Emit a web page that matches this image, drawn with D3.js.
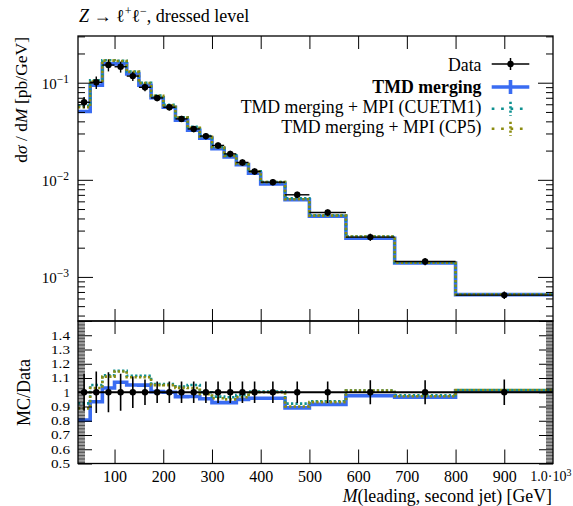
<!DOCTYPE html>
<html><head><meta charset="utf-8">
<script src="https://cdn.jsdelivr.net/npm/d3@7"></script>
<style>
body{margin:0;background:#fff}
svg text{font-family:"Liberation Serif","Times New Roman",serif;fill:#000}
</style>
</head><body>
<svg id="chart" width="573" height="506"></svg>
<script>
// ---------------- data ----------------
const binEdges = [25,50,75,100,125,150,175,200,225,250,275,300,325,350,375,400,450,500,575,675,800,1000];
const dataValues = [0.0629,0.101,0.152,0.146,0.117,0.0897,0.0697,0.0559,0.0424,0.0334,0.0282,0.0226,0.0185,0.0151,0.0122,0.00946,0.00701,0.00460,0.00257,0.00144,0.000650];
const dataRelErr = [0.13,0.145,0.14,0.13,0.11,0.09,0.075,0.075,0.075,0.075,0.075,0.075,0.075,0.075,0.075,0.075,0.075,0.075,0.085,0.085,0.09];
const tmdMerging = [0.0506,0.0943,0.1566,0.1562,0.1229,0.0942,0.0700,0.0559,0.0411,0.0324,0.0269,0.02095,0.01715,0.01435,0.01169,0.00906,0.00624,0.00421,0.002506,0.00139,0.000657];
const tmdCUETM1 = [0.0580,0.1061,0.1702,0.1679,0.1305,0.1000,0.0737,0.0591,0.0441,0.0351,0.0282,0.0219,0.01785,0.0148,0.01225,0.0095,0.00645,0.00431,0.00260,0.00141,0.000660];
const tmdCP5 = [0.0558,0.1040,0.1687,0.1672,0.1293,0.0991,0.0732,0.0587,0.0437,0.0344,0.0278,0.02165,0.01758,0.01457,0.0122,0.00946,0.00631,0.00428,0.00260,0.00140,0.000660];
const xTicks = [100,200,300,400,500,600,700,800,900];
const xTickLabels = ["100","200","300","400","500","600","700","800","900"];
const yMainMajor = [1e-3,1e-2,1e-1];
const yMainLabels = ["\u22123","\u22122","\u22121"];
const ratioTicks = [0.5,0.6,0.7,0.8,0.9,1.0,1.1,1.2,1.3,1.4];
const ratioTickLabels = ["0.5","0.6","0.7","0.8","0.9","1","1.1","1.2","1.3","1.4"];
const legendLabels = ["Data","TMD merging","TMD merging + MPI (CUETM1)","TMD merging + MPI (CP5)"];

// ---------------- layout ----------------
const L=78, R=553, T=36, MB=321, RB=463.5;
const BLUE="#3a6cf2", TEAL="#0f9191", OLIVE="#8c8c10";
const svg = d3.select("#chart");
const x = d3.scaleLinear().domain([25,1000]).range([L,R]);
const y = d3.scaleLog().domain([3.516e-4,0.3027]).range([MB,T]);
const yr = d3.scaleLinear().domain([0.5,1.5]).range([RB,MB]);

const defs = svg.append("defs");
defs.append("clipPath").attr("id","clipMain").append("rect").attr("x",L).attr("y",T).attr("width",R-L).attr("height",MB-T);
defs.append("clipPath").attr("id","clipRatio").append("rect").attr("x",L).attr("y",MB).attr("width",R-L).attr("height",RB-MB);

const nb = dataValues.length;
const centers = d3.range(nb).map(i => (binEdges[i]+binEdges[i+1])/2);
function stepPts(vals){ const p = vals.map((v,i)=>[binEdges[i],v]); p.push([binEdges[nb],vals[nb-1]]); return p; }

// ---------------- main panel ----------------
const gMain = svg.append("g").attr("clip-path","url(#clipMain)");
const lineMain = d3.line().x(d=>x(d[0])).y(d=>y(d[1])).curve(d3.curveStepAfter);
gMain.append("path").attr("d",lineMain(stepPts(tmdMerging))).attr("fill","none").attr("stroke",BLUE).attr("stroke-width",3.6);
gMain.append("path").attr("d",lineMain(stepPts(tmdCUETM1))).attr("fill","none").attr("stroke",TEAL).attr("stroke-width",2.6).attr("stroke-dasharray","2.3,2.2");
gMain.append("path").attr("d",lineMain(stepPts(tmdCP5))).attr("fill","none").attr("stroke",OLIVE).attr("stroke-width",2.6).attr("stroke-dasharray","2.3,2.2");

const dGroup = gMain.append("g");
dGroup.selectAll(".xe").data(d3.range(nb)).join("line")
  .attr("x1",i=>x(binEdges[i])).attr("x2",i=>x(binEdges[i+1]))
  .attr("y1",i=>y(dataValues[i])).attr("y2",i=>y(dataValues[i]))
  .attr("stroke","#000").attr("stroke-width",1.4);
dGroup.selectAll(".ye").data(d3.range(nb)).join("line")
  .attr("x1",i=>x(centers[i])).attr("x2",i=>x(centers[i]))
  .attr("y1",i=>y(dataValues[i]*(1+dataRelErr[i]))).attr("y2",i=>y(dataValues[i]*(1-dataRelErr[i])))
  .attr("stroke","#000").attr("stroke-width",1.4);
dGroup.selectAll("circle").data(d3.range(nb)).join("circle")
  .attr("cx",i=>x(centers[i])).attr("cy",i=>y(dataValues[i])).attr("r",3.2).attr("fill","#000");

// ---------------- ratio panel ----------------
const gRatio = svg.append("g").attr("clip-path","url(#clipRatio)");
const lineRatio = d3.line().x(d=>x(d[0])).y(d=>yr(d[1])).curve(d3.curveStepAfter);
const ratioOf = vals => vals.map((v,i)=>v/dataValues[i]);
gRatio.append("path").attr("d",lineRatio(stepPts(ratioOf(tmdMerging)))).attr("fill","none").attr("stroke",BLUE).attr("stroke-width",3.6);
gRatio.append("path").attr("d",lineRatio(stepPts(ratioOf(tmdCUETM1)))).attr("fill","none").attr("stroke",TEAL).attr("stroke-width",2.6).attr("stroke-dasharray","2.3,2.2");
gRatio.append("path").attr("d",lineRatio(stepPts(ratioOf(tmdCP5)))).attr("fill","none").attr("stroke",OLIVE).attr("stroke-width",2.6).attr("stroke-dasharray","2.3,2.2");
gRatio.append("path").attr("d",lineRatio(stepPts(dataValues.map(()=>1)))).attr("fill","none").attr("stroke","#000").attr("stroke-width",1.8);
gRatio.selectAll(".rye").data(d3.range(nb)).join("line")
  .attr("x1",i=>x(centers[i])).attr("x2",i=>x(centers[i]))
  .attr("y1",i=>yr(1+dataRelErr[i])).attr("y2",i=>yr(1-dataRelErr[i]))
  .attr("stroke","#000").attr("stroke-width",1.6);
gRatio.selectAll("circle").data(d3.range(nb)).join("circle")
  .attr("cx",i=>x(centers[i])).attr("cy",yr(1)).attr("r",3.2).attr("fill","#000");

// ---------------- axes / ticks ----------------
function cleanAxis(g){ g.select(".domain").remove(); g.selectAll(".tick line").attr("stroke","#000").attr("stroke-width",1); }
svg.append("g").attr("transform",`translate(0,${T})`).call(d3.axisTop(x).tickValues(xTicks).tickSize(-13).tickFormat("")).call(cleanAxis);
svg.append("g").attr("transform",`translate(0,${MB})`).call(d3.axisBottom(x).tickValues(xTicks).tickSize(-12).tickFormat("")).call(cleanAxis);
svg.append("g").attr("transform",`translate(0,${MB})`).call(d3.axisTop(x).tickValues(xTicks).tickSize(-13).tickFormat("")).call(cleanAxis);
const xAx = svg.append("g").attr("transform",`translate(0,${RB})`)
  .call(d3.axisBottom(x).tickValues(xTicks).tickSize(-14).tickPadding(7).tickFormat((d,i)=>xTickLabels[i])).call(cleanAxis);
xAx.selectAll("text").attr("font-size",16).attr("font-family","Liberation Serif");
const t1000 = svg.append("text").attr("x",571.5).attr("y",481).attr("text-anchor","end").attr("font-size",14);
t1000.append("tspan").text("1.0\u00b710");
t1000.append("tspan").attr("dy",-5.5).attr("font-size",10).text("3");

const yMinor = [];
[-4,-3,-2,-1].forEach(e=>{ for(let k=2;k<=9;k++){ const v=k*Math.pow(10,e); if(v>y.domain()[0]&&v<y.domain()[1]) yMinor.push(v);} });
[[d3.axisLeft,L],[d3.axisRight,R]].forEach(([ax,pos])=>{
  svg.append("g").attr("transform",`translate(${pos},0)`).call(ax(y).tickValues(yMainMajor).tickSize(-15).tickFormat("")).call(cleanAxis);
  svg.append("g").attr("transform",`translate(${pos},0)`).call(ax(y).tickValues(yMinor).tickSize(-7).tickFormat("")).call(cleanAxis);
});
yMainMajor.forEach((v,i)=>{
  const t = svg.append("text").attr("x",69).attr("y",y(v)+6.5).attr("text-anchor","end").attr("font-size",15);
  t.append("tspan").text("10");
  t.append("tspan").attr("dy",-6.5).attr("font-size",11.5).text(yMainLabels[i]);
});

const rMinor = d3.range(50,150).map(k=>k/100).filter(v=>Math.round(v*100)%10!==0);
[[d3.axisLeft,L],[d3.axisRight,R]].forEach(([ax,pos])=>{
  svg.append("g").attr("transform",`translate(${pos},0)`).call(ax(yr).tickValues(ratioTicks.concat([1.5])).tickSize(-14).tickFormat("")).call(cleanAxis);
  svg.append("g").attr("transform",`translate(${pos},0)`).call(ax(yr).tickValues(rMinor).tickSize(-7).tickFormat("")).call(g=>{cleanAxis(g); g.selectAll(".tick line").attr("stroke-width",0.7);});
});
svg.selectAll(".rlab").data(ratioTicks).join("text")
  .attr("x",70).attr("y",d=>yr(d)+4.3).attr("text-anchor","end").attr("font-size",12.2)
  .attr("textLength",(d,i)=>ratioTickLabels[i].length===1?6.5:19).attr("lengthAdjust","spacingAndGlyphs")
  .text((d,i)=>ratioTickLabels[i]);

svg.append("rect").attr("x",L).attr("y",T).attr("width",R-L).attr("height",MB-T).attr("fill","none").attr("stroke","#000").attr("stroke-width",1.3);
svg.append("rect").attr("x",L).attr("y",MB).attr("width",R-L).attr("height",RB-MB).attr("fill","none").attr("stroke","#000").attr("stroke-width",1.3);

// ---------------- labels ----------------
const title = svg.append("text").attr("x",79).attr("y",21.5).attr("font-size",18);
title.append("tspan").attr("font-style","italic").text("Z");
title.append("tspan").text(" \u2192 \u2113");
title.append("tspan").attr("dy",-6.5).attr("font-size",12).text("+");
title.append("tspan").attr("dy",6.5).text("\u2113");
title.append("tspan").attr("dy",-6.5).attr("font-size",12).text("\u2212");
title.append("tspan").attr("dy",6.5).text(", dressed level");

const yl = svg.append("text").attr("transform","translate(27,37) rotate(-90)").attr("text-anchor","end").attr("font-size",17.5);
yl.append("tspan").text("d");
yl.append("tspan").attr("font-style","italic").text("\u03c3");
yl.append("tspan").text(" / d");
yl.append("tspan").attr("font-style","italic").text("M");
yl.append("tspan").text(" [pb/GeV]");

svg.append("text").attr("transform","translate(30,392.5) rotate(-90)").attr("text-anchor","middle").attr("font-size",18).text("MC/Data");

const xl = svg.append("text").attr("x",552).attr("y",502).attr("text-anchor","end").attr("font-size",17.8);
xl.append("tspan").attr("font-style","italic").text("M");
xl.append("tspan").text("(leading, second jet) [GeV]");

// ---------------- legend ----------------
const legX0=491.7, legX1=529.3, legXc=510.5, legTextX=481.5;
const legBase=[70.5,92.5,112.7,132.7];
legendLabels.forEach((lab,i)=>{
  svg.append("text").attr("x",legTextX).attr("y",legBase[i]).attr("text-anchor","end").attr("font-size",17.8)
    .attr("font-weight",i===1?"bold":"normal").text(lab);
});
svg.append("line").attr("x1",legX0).attr("x2",legX1).attr("y1",64).attr("y2",64).attr("stroke","#000").attr("stroke-width",1.5);
svg.append("line").attr("x1",legXc).attr("x2",legXc).attr("y1",58).attr("y2",70).attr("stroke","#000").attr("stroke-width",1.5);
svg.append("circle").attr("cx",legXc).attr("cy",64).attr("r",3.2).attr("fill","#000");
svg.append("line").attr("x1",legX0).attr("x2",legX1).attr("y1",87).attr("y2",87).attr("stroke",BLUE).attr("stroke-width",3.6);
svg.append("line").attr("x1",legXc).attr("x2",legXc).attr("y1",80).attr("y2",94).attr("stroke",BLUE).attr("stroke-width",3.6);
[[TEAL,108.8],[OLIVE,128.8]].forEach(([c,yy])=>{
  svg.append("line").attr("x1",legX0).attr("x2",legX1).attr("y1",yy).attr("y2",yy).attr("stroke",c).attr("stroke-width",2.6).attr("stroke-dasharray","2.7,6.7");
  svg.append("line").attr("x1",legXc).attr("x2",legXc).attr("y1",yy-7).attr("y2",yy+7).attr("stroke",c).attr("stroke-width",2.6).attr("stroke-dasharray","2.2,2.2");
});
</script>
</body></html>
